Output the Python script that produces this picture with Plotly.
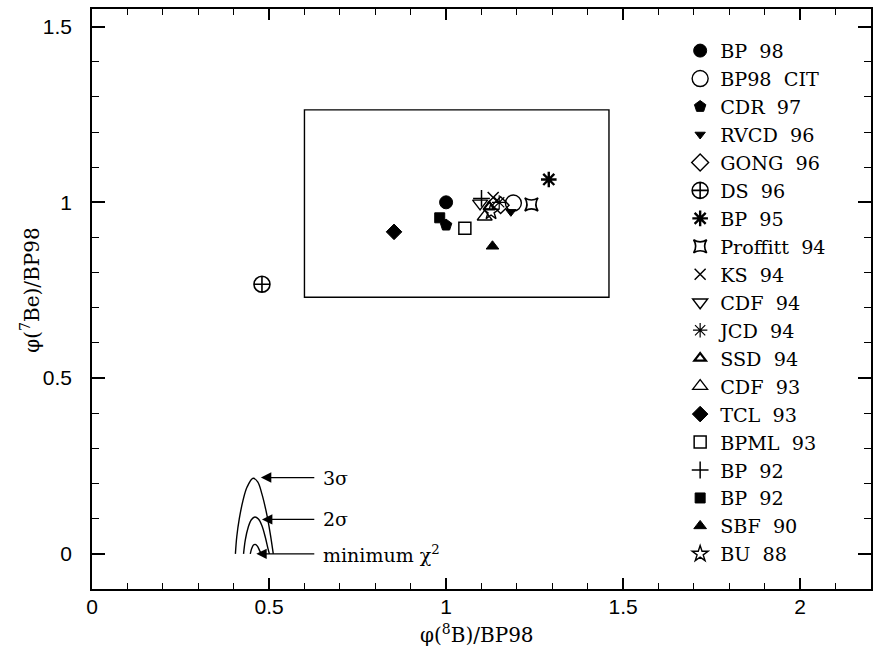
import plotly.graph_objects as go

# Solar model predictions, fluxes normalised to BP98
models = ["BP  98", "BP98  CIT", "CDR  97", "RVCD  96", "GONG  96", "DS  96", "BP  95",
          "Proffitt  94", "KS  94", "CDF  94", "JCD  94", "SSD  94", "CDF  93", "TCL  93",
          "BPML  93", "BP  92", "BP  92", "SBF  90", "BU  88"]
b8_ratio = [1.0, 1.19, 1.0, 1.183, 1.154, 0.48, 1.29,
            1.241, 1.133, 1.096, 1.15, 1.122, 1.109, 0.853,
            1.053, 1.10, 0.982, 1.131, 1.127]
be7_ratio = [1.0, 0.998, 0.935, 0.973, 0.992, 0.767, 1.065,
             0.994, 1.014, 0.997, 1.0, 0.987, 0.959, 0.916,
             0.926, 1.011, 0.956, 0.875, 0.973]

# Marker styling per model: (symbol, size, line width)
styles = [
    ("circle", 13, 1), ("circle-open", 16, 1.4), ("pentagon", 12, 1),
    ("triangle-down", 9, 1), ("diamond-open", 13, 1.4), ("circle-cross-open", 16, 1.6),
    ("asterisk-open", 13, 2.4), ("star-square-open", 12, 1.6), ("x-thin-open", 11, 1.5),
    ("triangle-down-open", 13, 1.4), ("asterisk-open", 12, 1.2), ("triangle-up-open", 10, 2.2),
    ("triangle-up-open", 13, 1.3), ("diamond", 12, 1), ("square-open", 12, 1.5),
    ("cross-thin-open", 12, 1.5), ("square", 10, 1), ("triangle-up", 11, 1),
    ("star-open", 12, 1.4),
]

# Box: 3-sigma range of the BP98 fluxes
box_b8 = [0.60, 1.46]
box_be7 = [0.73, 1.263]

# Chi-square contours of the fit (minimum, 2 sigma, 3 sigma)
c3_x = [0.405, 0.409, 0.416, 0.426, 0.438, 0.455, 0.468, 0.480, 0.492, 0.503, 0.512]
c3_y = [0.0, 0.05, 0.10, 0.15, 0.19, 0.215, 0.205, 0.17, 0.12, 0.06, 0.0]
c2_x = [0.428, 0.433, 0.441, 0.450, 0.460, 0.470, 0.480, 0.490, 0.497, 0.501]
c2_y = [0.0, 0.04, 0.075, 0.097, 0.105, 0.099, 0.08, 0.045, 0.015, 0.0]
c1_x = [0.447, 0.451, 0.456, 0.461, 0.467, 0.473, 0.478]
c1_y = [0.0, 0.015, 0.025, 0.027, 0.022, 0.01, 0.0]

contour_labels = ["3σ", "2σ", "minimum χ<sup>2</sup>"]
arrow_tip_x = [0.477, 0.48, 0.464]
arrow_y = [0.217, 0.098, 0.0]
arrow_tail_x = 0.632
label_x = 0.647

x_range = [0, 2.2]
y_range = [-0.1, 1.55]

serif = "DejaVu Serif"

fig = go.Figure()

for name, x, y, (sym, size, lw) in zip(models, b8_ratio, be7_ratio, styles):
    fig.add_trace(go.Scatter(
        x=[x], y=[y], mode="markers", name=name,
        marker=dict(symbol=sym, size=size, color="black",
                    line=dict(color="black", width=lw)),
    ))

for cx, cy in [(c3_x, c3_y), (c2_x, c2_y), (c1_x, c1_y)]:
    fig.add_trace(go.Scatter(x=cx, y=cy, mode="lines", showlegend=False,
                             line=dict(color="black", width=1.4, shape="spline")))

fig.add_shape(type="rect", xref="x", yref="y",
              x0=box_b8[0], x1=box_b8[1], y0=box_be7[0], y1=box_be7[1],
              line=dict(color="black", width=1.4))

for txt, tip, yv in zip(contour_labels, arrow_tip_x, arrow_y):
    fig.add_annotation(x=tip, y=yv, ax=arrow_tail_x, ay=yv, xref="x", yref="y",
                       axref="x", ayref="y", text="", showarrow=True,
                       arrowhead=2, arrowsize=1.6, arrowwidth=1.3, arrowcolor="black")
    fig.add_annotation(x=label_x, y=yv, xref="x", yref="y", text=txt,
                       showarrow=False, xanchor="left", yanchor="middle",
                       font=dict(family=serif, size=19, color="black"))

# Axis titles
fig.add_annotation(text="φ(<sup>8</sup>B)/BP98", xref="paper", yref="paper",
                   x=0.494, y=-0.077, xanchor="center", yanchor="middle",
                   showarrow=False, font=dict(family=serif, size=20, color="black"))
fig.add_annotation(text="φ(<sup>7</sup>Be)/BP98", xref="paper", yref="paper",
                   x=-0.079, y=0.515, xanchor="center", yanchor="middle", textangle=-90,
                   showarrow=False, font=dict(family=serif, size=20, color="black"))

common = dict(
    showline=True, linecolor="black", linewidth=1.5, mirror="allticks",
    ticks="inside", tickcolor="black", tickwidth=1.5,
    showgrid=False, zeroline=False, tickmode="linear", tick0=0, dtick=0.5,
    tickfont=dict(family="Liberation Sans", size=21, color="black"),
)

fig.update_xaxes(range=x_range, ticklen=11, ticklabelstandoff=-2,
                 minor=dict(ticks="inside", ticklen=6, tickcolor="black", tickwidth=1.3,
                            dtick=0.1, tick0=0, showgrid=False),
                 **common)
fig.update_yaxes(range=y_range, ticklen=13, ticklabelstandoff=14,
                 minor=dict(ticks="inside", ticklen=7, tickcolor="black", tickwidth=1.3,
                            dtick=0.1, tick0=0, showgrid=False),
                 **common)

fig.update_layout(
    width=877, height=647,
    margin=dict(l=92, r=4, t=9, b=58),
    paper_bgcolor="white", plot_bgcolor="white",
    legend=dict(x=0.755, y=0.961, xanchor="left", yanchor="top",
                font=dict(family=serif, size=19.2, color="black"),
                bgcolor="rgba(0,0,0,0)", itemwidth=30, tracegroupgap=0),
)

fig.write_html("out.html")
